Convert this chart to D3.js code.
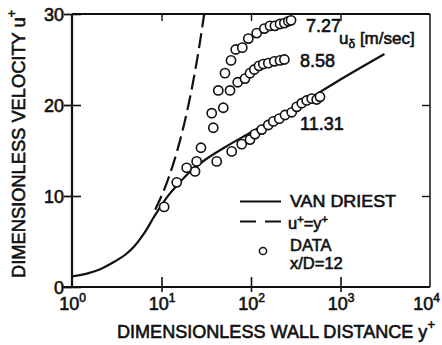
<!DOCTYPE html>
<html>
<head>
<meta charset="utf-8">
<script src="https://cdn.jsdelivr.net/npm/d3@7"></script>
<style>
  body { margin: 0; background: #fff; }
  text { font-family: "Liberation Sans", Arial, sans-serif; fill: #111; }
</style>
</head>
<body>
<svg id="chart" width="442" height="345"></svg>
<script>
// Van Driest velocity profile (y+, u+)
const vanDriestY = [1, 1.5, 2, 3, 4, 5, 6, 7, 8, 9, 10, 12, 15, 20, 30, 50, 100, 200, 500, 1000, 3100];
const vanDriestU = [1.15, 1.5, 1.9, 2.8, 3.6, 4.5, 5.5, 6.5, 7.5, 8.3, 9.0, 10.1, 11.2, 12.5, 13.9, 15.3, 17.0, 18.7, 21.0, 22.8, 25.6];

// Viscous sublayer u+ = y+
const sublayerY = [8.5, 10, 12, 14, 17, 20, 23, 26, 30];
const sublayerU = [8.5, 10, 12, 14, 17, 20, 23, 26, 30];

// Measured profiles at x/D = 12, free-stream velocity 7.27 m/s
const data727Y = [19.1, 27.6, 36.4, 43.1, 51.2, 59.8, 67.5, 79.9, 93.3, 115.8, 140.8, 163, 185, 211, 236, 261, 280];
const data727U = [13.1, 15.3, 19.1, 21.6, 23.5, 24.9, 26.1, 26.3, 27.3, 27.9, 28.4, 28.7, 28.7, 28.9, 29.0, 29.2, 29.3];

// 8.58 m/s
const data858Y = [24.7, 37.9, 49.0, 58.3, 71.0, 85.7, 97.5, 108.9, 122.9, 137.2, 156.1, 182.1, 211, 236];
const data858U = [13.8, 17.5, 19.7, 21.6, 22.5, 22.9, 23.5, 23.9, 24.3, 24.5, 24.6, 24.8, 24.9, 25.0];

// 11.31 m/s
const data1131Y = [10.7, 14.8, 23.7, 41.4, 60.9, 78.7, 97.5, 110.8, 131.7, 156, 177.5, 207, 240, 285, 324, 369, 419, 477, 542, 590];
const data1131U = [8.8, 11.5, 12.7, 13.8, 14.9, 15.7, 16.2, 16.8, 17.3, 17.8, 18.2, 18.5, 18.9, 19.2, 19.8, 20.2, 20.5, 20.7, 20.6, 20.9];

const seriesLabels = ["7.27", "8.58", "11.31"];
const xTickValues = [1, 10, 100, 1000, 10000];
const yTickValues = [0, 10, 20, 30];

(function draw() {
  const ink = "#111";
  const svg = d3.select("#chart");

  const x = d3.scaleLog().domain([1, 1e4]).range([72, 430]);
  const y = d3.scaleLinear().domain([0, 30]).range([287, 14]);

  const zip = (xs, ys) => xs.map((v, i) => [v, ys[i]]);
  const line = d3.line().x(d => x(d[0])).y(d => y(d[1])).curve(d3.curveMonotoneX);

  // frame
  const [x0, x1] = x.range();
  const [y0, y1] = y.range();
  svg.append("line").attr("x1", x0).attr("x2", x0).attr("y1", y0).attr("y2", y1)
    .attr("stroke", ink).attr("stroke-width", 2.2);
  svg.append("line").attr("x1", x0 - 10).attr("x2", x1).attr("y1", y0).attr("y2", y0)
    .attr("stroke", ink).attr("stroke-width", 2.2);
  svg.append("line").attr("x1", x0).attr("x2", x1).attr("y1", y1).attr("y2", y1)
    .attr("stroke", ink).attr("stroke-width", 1.8);
  svg.append("line").attr("x1", x1).attr("x2", x1).attr("y1", y0).attr("y2", y1)
    .attr("stroke", ink).attr("stroke-width", 1.5);

  // left axis: labels + ticks crossing the axis
  const axLeft = svg.append("g").attr("transform", `translate(${x0},0)`)
    .call(d3.axisLeft(y).tickValues(yTickValues).tickSizeInner(-9).tickSizeOuter(0).tickPadding(8));
  axLeft.select(".domain").remove();
  axLeft.selectAll(".tick line").attr("stroke", ink).attr("stroke-width", 1.6);
  axLeft.selectAll(".tick").append("line").attr("x1", 0).attr("x2", -8)
    .attr("stroke", ink).attr("stroke-width", 1.8);
  axLeft.selectAll(".tick text").attr("font-size", 18).attr("fill", ink)
    .attr("stroke", ink).attr("stroke-width", 0.6).attr("dy", "0.36em");

  // right axis: inward ticks
  const axRight = svg.append("g").attr("transform", `translate(${x1},0)`)
    .call(d3.axisRight(y).tickValues([10, 20]).tickSizeInner(-8).tickSizeOuter(0).tickFormat(""));
  axRight.select(".domain").remove();
  axRight.selectAll(".tick line").attr("stroke", ink).attr("stroke-width", 1.4);

  // bottom axis: 10^n labels (the last one kept inside the canvas edge)
  const axBottom = svg.append("g").attr("transform", `translate(0,${y0})`)
    .call(d3.axisBottom(x).tickValues(xTickValues).tickSizeInner(0).tickSizeOuter(0).tickFormat(""));
  axBottom.select(".domain").remove();
  axBottom.selectAll(".tick line").remove();
  axBottom.selectAll(".tick text").each(function (d) {
    const last = d === xTickValues[xTickValues.length - 1];
    const t = d3.select(this).attr("y", 23).attr("dy", null).attr("x", last ? -4 : 0)
      .attr("text-anchor", "middle").attr("fill", ink)
      .attr("stroke", ink).attr("stroke-width", 0.6);
    t.append("tspan").attr("font-size", 18).text("10");
    t.append("tspan").attr("font-size", 12).attr("dy", -8).text(Math.round(Math.log10(d)));
  });
  axBottom.selectAll(".tick").filter(d => d > 1 && d < 1e4).append("line")
    .attr("y1", 5).attr("y2", -10).attr("stroke", ink).attr("stroke-width", 1.6);

  // top axis: inward ticks
  const axTop = svg.append("g").attr("transform", `translate(0,${y1})`)
    .call(d3.axisTop(x).tickValues([10, 100, 1000]).tickSizeInner(-7).tickSizeOuter(0).tickFormat(""));
  axTop.select(".domain").remove();
  axTop.selectAll(".tick line").attr("stroke", ink).attr("stroke-width", 1.4);

  // axis titles
  const xTitle = svg.append("text").attr("x", 117).attr("y", 338)
    .attr("font-size", 18).attr("stroke", ink).attr("stroke-width", 0.6)
    .attr("textLength", 318).attr("lengthAdjust", "spacingAndGlyphs");
  xTitle.append("tspan").text("DIMENSIONLESS  WALL  DISTANCE  y");
  xTitle.append("tspan").attr("font-size", 13).attr("dy", -9).text("+");

  const yTitle = svg.append("text")
    .attr("transform", "translate(25,278) rotate(-90)")
    .attr("font-size", 19).attr("stroke", ink).attr("stroke-width", 0.6)
    .attr("textLength", 268).attr("lengthAdjust", "spacingAndGlyphs");
  yTitle.append("tspan").text("DIMENSIONLESS VELOCITY u");
  yTitle.append("tspan").attr("font-size", 13).attr("dy", -9).text("+");

  // curves
  svg.append("path").datum(zip(vanDriestY, vanDriestU)).attr("d", line)
    .attr("fill", "none").attr("stroke", ink).attr("stroke-width", 2.2);
  svg.append("path").datum(zip(sublayerY, sublayerU)).attr("d", line)
    .attr("fill", "none").attr("stroke", ink).attr("stroke-width", 2.2)
    .attr("stroke-dasharray", "15,6");

  // data points
  const allData = [
    zip(data1131Y, data1131U),
    zip(data858Y, data858U),
    zip(data727Y, data727U)
  ];
  svg.append("g").selectAll("g").data(allData).join("g")
    .selectAll("circle").data(d => d).join("circle")
    .attr("cx", d => x(d[0])).attr("cy", d => y(d[1])).attr("r", 4.6)
    .attr("fill", "#fff").attr("stroke", ink).attr("stroke-width", 1.6);

  // series annotations
  const ann = svg.append("g").attr("font-size", 18).attr("stroke", ink).attr("stroke-width", 0.6);
  ann.append("text").attr("x", 306).attr("y", 32).text(seriesLabels[0]);
  ann.append("text").attr("x", 300).attr("y", 67).text(seriesLabels[1]);
  ann.append("text").attr("x", 300).attr("y", 130).text(seriesLabels[2]);
  const unit = ann.append("text").attr("x", 339).attr("y", 44).attr("font-size", 17);
  unit.append("tspan").text("u");
  unit.append("tspan").attr("font-size", 12).attr("dy", 4).text("δ");
  unit.append("tspan").attr("dy", -4).text(" [m/sec]");

  // legend
  const lg = svg.append("g");
  lg.append("line").attr("x1", 240).attr("x2", 281).attr("y1", 201.5).attr("y2", 201.5)
    .attr("stroke", ink).attr("stroke-width", 2);
  lg.append("line").attr("x1", 240).attr("x2", 282).attr("y1", 221.5).attr("y2", 221.5)
    .attr("stroke", ink).attr("stroke-width", 2).attr("stroke-dasharray", "16,9");
  lg.append("circle").attr("cx", 263).attr("cy", 251).attr("r", 3.6)
    .attr("fill", "#fff").attr("stroke", ink).attr("stroke-width", 1.5);
  const lt = lg.append("g").attr("font-size", 16.5).attr("stroke", ink).attr("stroke-width", 0.6);
  lt.append("text").attr("x", 290).attr("y", 207)
    .attr("textLength", 106).attr("lengthAdjust", "spacingAndGlyphs").text("VAN DRIEST");
  const eq = lt.append("text").attr("x", 288).attr("y", 229);
  eq.append("tspan").text("u");
  eq.append("tspan").attr("font-size", 11).attr("dy", -6).text("+");
  eq.append("tspan").attr("dy", 6).text("=y");
  eq.append("tspan").attr("font-size", 11).attr("dy", -6).text("+");
  lt.append("text").attr("x", 290).attr("y", 251).text("DATA");
  lt.append("text").attr("x", 290).attr("y", 269).text("x/D=12");
})();
</script>
</body>
</html>
